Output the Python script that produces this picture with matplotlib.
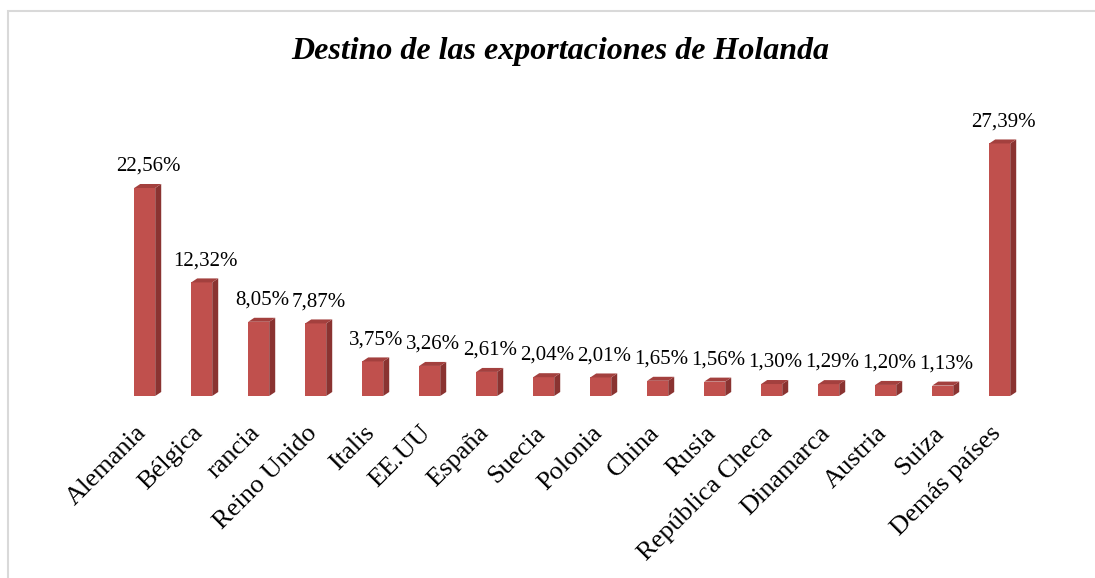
import matplotlib
matplotlib.use("Agg")
import matplotlib.pyplot as plt
from matplotlib.patches import Polygon, Rectangle
import matplotlib.transforms as mtransforms

categories = ["Alemania", "Bélgica", "rancia", "Reino Unido", "Italis", "EE.UU", "España",
              "Suecia", "Polonia", "China", "Rusia", "República Checa", "Dinamarca",
              "Austria", "Suiza", "Demás países"]
values = [22.56, 12.32, 8.05, 7.87, 3.75, 3.26, 2.61, 2.04, 2.01, 1.65, 1.56, 1.30,
          1.29, 1.20, 1.13, 27.39]
value_labels = ["22,56%", "12,32%", "8,05%", "7,87%", "3,75%", "3,26%", "2,61%", "2,04%",
                "2,01%", "1,65%", "1,56%", "1,30%", "1,29%", "1,20%", "1,13%", "27,39%"]
title = "Destino de las exportaciones de Holanda"

W, H = 1095, 578
fig = plt.figure(figsize=(W / 100, H / 100), dpi=100)
fig.patch.set_facecolor("white")

# border (left + top visible)
fig.add_artist(Rectangle((8 / W, -0.1), 1.2, (H - 11) / H + 0.1, transform=fig.transFigure,
                         fill=False, edgecolor="#D9D9D9", linewidth=1.5))

# axes placement in pixels
step = 57.0
x0 = 145.0 - step / 2
x1 = 1000.0 + step / 2
ybot = H - 396.0
ymax = 30.0
pxper = 9.22
ax = fig.add_axes([x0 / W, ybot / H, (x1 - x0) / W, ymax * pxper / H])
ax.set_xlim(-0.5, len(categories) - 0.5)
ax.set_ylim(0, ymax)
ax.axis("off")

front = "#C0504D"
side = "#8A3331"
top = "#A3403E"
bw = 21 / step
dx = 6 / step
dy = 4 / pxper

for i, v in enumerate(values):
    l = i - bw / 2 - 0.005
    r = l + bw
    ax.add_patch(Polygon([(l, 0), (r, 0), (r, v), (l, v)], closed=True,
                         facecolor=front, edgecolor="none"))
    ax.add_patch(Polygon([(r, 0), (r + dx, dy), (r + dx, v + dy), (r, v)], closed=True,
                         facecolor=side, edgecolor="none"))
    ax.add_patch(Polygon([(l, v), (r, v), (r + dx, v + dy), (l + dx, v + dy)], closed=True,
                         facecolor=top, edgecolor="none"))
    ax.annotate(value_labels[i], xy=(i + dx / 2, v + dy), xytext=(0, 6),
                textcoords="offset points", ha="center", va="bottom",
                fontsize=15, family="Liberation Serif", color="black")

for i, c in enumerate(categories):
    trans = mtransforms.offset_copy(ax.transData, fig=fig, x=-10, y=-26, units="dots")
    ax.text(i, 0, c, transform=trans, rotation=45, ha="right", va="top",
            rotation_mode="anchor", fontsize=19, family="Liberation Serif", color="black")

fig.text(560 / W, 1 - 51 / H, title, ha="center", va="center", fontsize=23,
         family="Liberation Serif", style="italic", weight="bold", color="black")

fig.savefig("out.png", dpi=100, facecolor="white")
